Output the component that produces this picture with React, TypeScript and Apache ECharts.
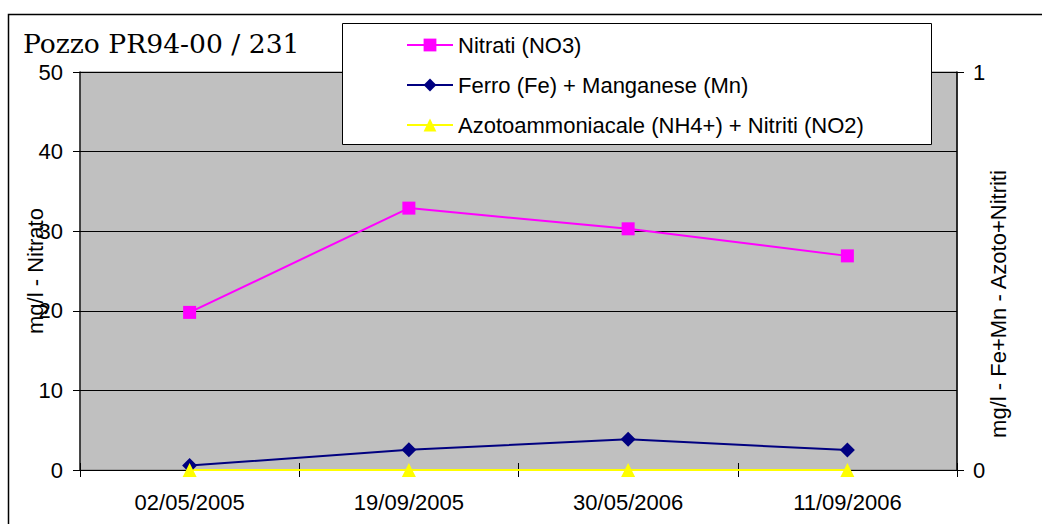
import React, { useEffect, useRef } from "react";
import * as echarts from "echarts";

const categories = ["02/05/2005", "19/09/2005", "30/05/2006", "11/09/2006"];
const nitrati = [19.8, 32.9, 30.3, 26.9];
const ferroManganese = [0.011, 0.051, 0.077, 0.05];
const azotoNitriti = [0, 0, 0, 0];
const seriesNames = [
  "Nitrati (NO3)",
  "Ferro (Fe) + Manganese (Mn)",
  "Azotoammoniacale (NH4+) + Nitriti (NO2)",
];
const titleText = "Pozzo PR94-00 / 231";
const leftAxisName = "mg/l - Nitrato";
const rightAxisName = "mg/l - Fe+Mn - Azoto+Nitriti";

const SANS = "'Liberation Sans', Arial, sans-serif";

export default function App() {
  const ref = useRef<HTMLDivElement>(null);
  useEffect(() => {
    if (!ref.current) return;
    const chart = echarts.init(ref.current, undefined, { renderer: "svg" });
    const rowCenters = [45, 85, 125];
    const legendBase = {
      left: 406,
      orient: "vertical",
      padding: 0,
      itemWidth: 46,
      itemHeight: 16,
      itemGap: 0,
      z: 20,
      textStyle: { fontFamily: SANS, fontSize: 22, color: "#000", lineHeight: 22 },
      selectedMode: false,
    };
    const crossTickY = {
      show: true,
      length: 7,
      lineStyle: { color: "#000", width: 1 },
    };
    chart.setOption({
      animation: false,
      backgroundColor: "#fff",
      title: {
        text: titleText,
        left: 23,
        top: 30,
        padding: 0,
        textStyle: {
          fontFamily: "'DejaVu Serif', serif",
          fontSize: 26.6,
          fontWeight: "normal",
          color: "#000",
        },
      },
      graphic: [
        {
          type: "rect",
          z: 1,
          silent: true,
          shape: { x: 8.5, y: 14.5, width: 1200, height: 700 },
          style: { fill: "none", stroke: "#000", lineWidth: 1.5 },
        },
        {
          type: "rect",
          z: 10,
          silent: true,
          shape: { x: 342.5, y: 23.5, width: 589, height: 121 },
          style: { fill: "#fff", stroke: "#000", lineWidth: 1 },
        },
      ],
      legend: seriesNames.map((n, i) => ({
        ...legendBase,
        top: rowCenters[i] - 11,
        data: [n],
      })),
      grid: {
        left: 80,
        top: 72,
        width: 877,
        height: 398,
        show: true,
        backgroundColor: "#C0C0C0",
        borderColor: "#808080",
        borderWidth: 1,
      },
      xAxis: [
        {
          type: "category",
          data: categories,
          boundaryGap: true,
          axisLine: { lineStyle: { color: "#000", width: 1 } },
          axisTick: { show: true, length: 7, lineStyle: { color: "#000" } },
          axisLabel: { fontFamily: SANS, fontSize: 22, color: "#000", margin: 21 },
          splitLine: { show: false },
        },
        {
          type: "category",
          data: categories,
          position: "bottom",
          boundaryGap: true,
          axisLine: { show: false },
          axisTick: { show: true, inside: true, length: 7, lineStyle: { color: "#000" } },
          axisLabel: { show: false },
          splitLine: { show: false },
        },
      ],
      yAxis: [
        {
          type: "value",
          position: "left",
          min: 0,
          max: 50,
          interval: 10,
          name: leftAxisName,
          nameLocation: "middle",
          nameGap: 34,
          nameMoveOverlap: false,
          nameTextStyle: { fontFamily: SANS, fontSize: 22, color: "#000" },
          axisLine: { show: true, lineStyle: { color: "#202020", width: 1.5 } },
          axisTick: crossTickY,
          axisLabel: { fontFamily: SANS, fontSize: 22, color: "#000", margin: 17 },
          splitLine: { show: true, lineStyle: { color: "#000", width: 1 } },
        },
        {
          type: "value",
          position: "right",
          min: 0,
          max: 1,
          interval: 1,
          name: rightAxisName,
          nameLocation: "middle",
          nameGap: 30,
          nameMoveOverlap: false,
          nameTextStyle: {
            fontFamily: SANS,
            fontSize: 22,
            color: "#000",
            padding: [0, 66, 0, 0],
          },
          axisLine: { show: true, lineStyle: { color: "#000", width: 1.5 } },
          axisTick: crossTickY,
          axisLabel: { fontFamily: SANS, fontSize: 22, color: "#000", margin: 16 },
          splitLine: { show: false },
        },
        {
          type: "value",
          position: "left",
          min: 0,
          max: 50,
          interval: 10,
          axisLine: { show: false },
          axisTick: { ...crossTickY, inside: true },
          axisLabel: { show: false },
          splitLine: { show: false },
        },
        {
          type: "value",
          position: "right",
          min: 0,
          max: 1,
          interval: 1,
          axisLine: { show: false },
          axisTick: { ...crossTickY, inside: true },
          axisLabel: { show: false },
          splitLine: { show: false },
        },
      ],
      series: [
        {
          name: seriesNames[0],
          type: "line",
          yAxisIndex: 0,
          data: nitrati,
          symbol: "rect",
          symbolSize: 13,
          color: "#FF00FF",
          lineStyle: { color: "#FF00FF", width: 2 },
          itemStyle: { color: "#FF00FF" },
        },
        {
          name: seriesNames[1],
          type: "line",
          yAxisIndex: 1,
          data: ferroManganese,
          symbol: "diamond",
          symbolSize: 15,
          color: "#000080",
          lineStyle: { color: "#000080", width: 2 },
          itemStyle: { color: "#000080" },
        },
        {
          name: seriesNames[2],
          type: "line",
          yAxisIndex: 1,
          data: azotoNitriti,
          symbol: "triangle",
          symbolSize: 14,
          color: "#FFFF00",
          lineStyle: { color: "#FFFF00", width: 2 },
          itemStyle: { color: "#FFFF00" },
        },
      ],
    });
    return () => chart.dispose();
  }, []);
  return (
    <div
      ref={ref}
      style={{ position: "absolute", left: 0, top: 0, width: 1042, height: 524 }}
    />
  );
}
